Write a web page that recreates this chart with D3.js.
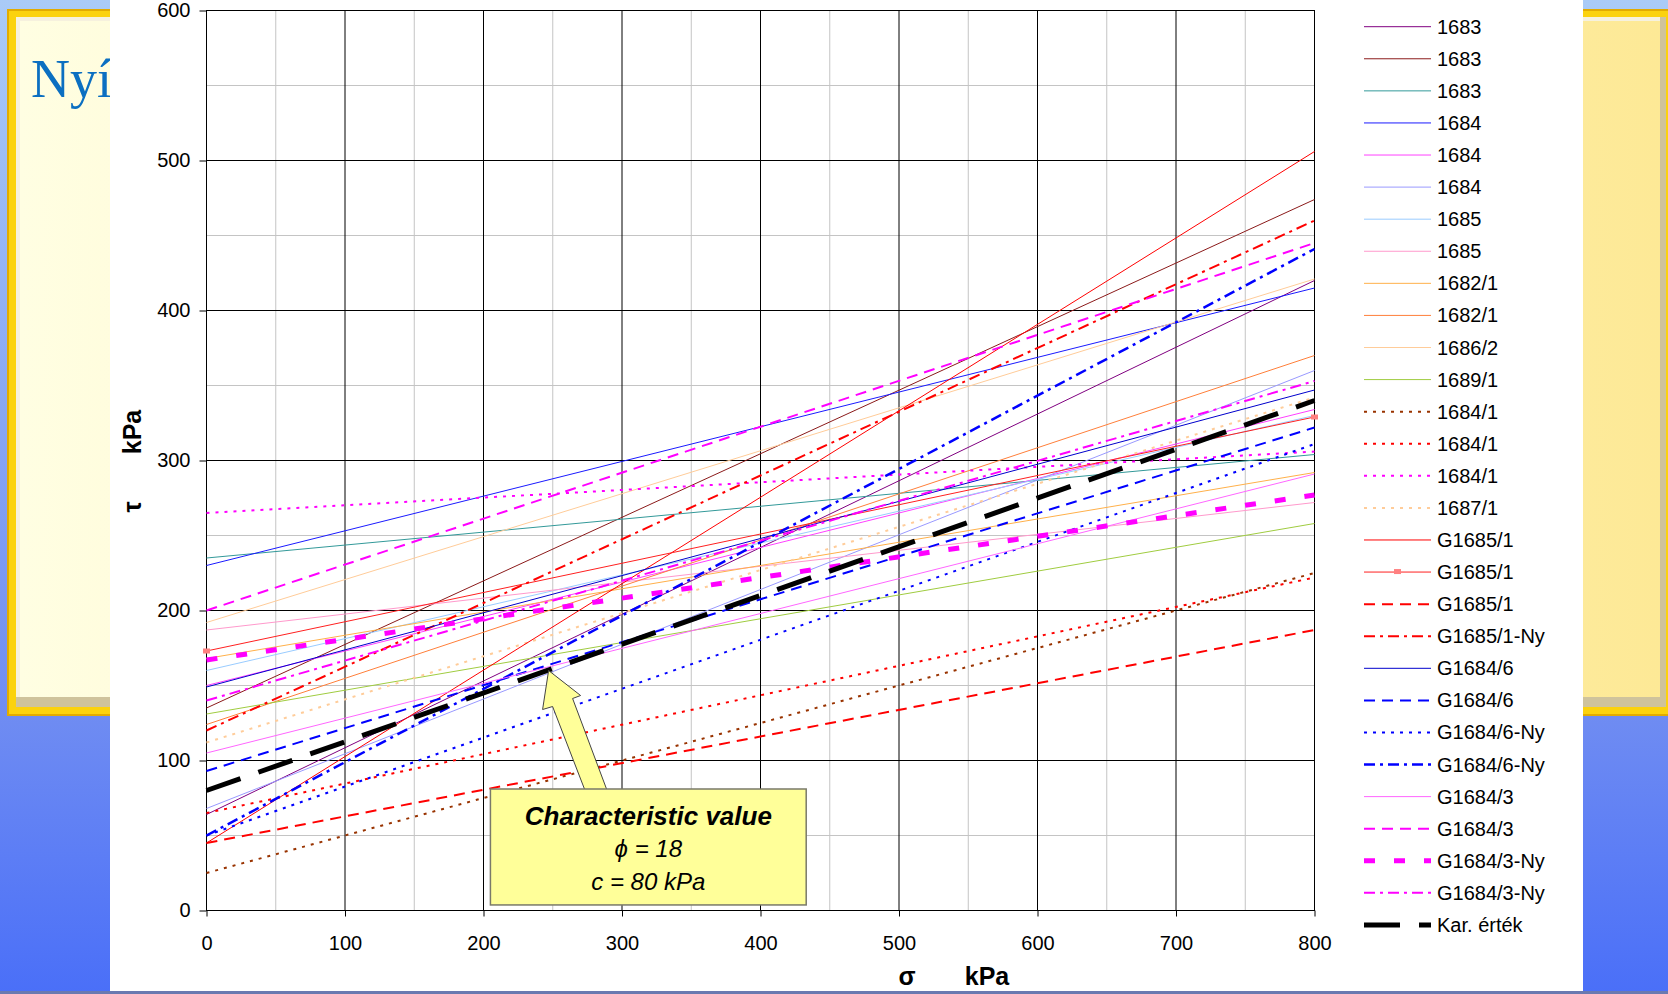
<html>
<head>
    <meta charset="utf-8">
    <style>
        body {
            margin: 0;
            overflow: hidden;
        }

        svg {
            display: block;
            font-family: "Liberation Sans", Arial, sans-serif;
        }

        .axis text {
            font-size: 20px;
            fill: #000;
        }

        .axis line {
            stroke: #000;
        }

        .legend text {
            font-size: 20px;
            fill: #000;
        }

        .axis-title {
            font-size: 25px;
            font-weight: bold;
            text-anchor: middle;
        }
    </style>
    <script src="https://d3js.org/d3.v7.min.js"></script>
</head>
<body>
    <svg width="1668" height="994"></svg>
    <script>

        // series: tau (kPa) at sigma = 0 and sigma = 800
        var seriesNames = ["1683", "1683", "1683", "1684", "1684", "1684", "1685", "1685",
                           "1682/1", "1682/1", "1686/2", "1689/1", "1684/1", "1684/1", "1684/1", "1687/1",
                           "G1685/1", "G1685/1", "G1685/1", "G1685/1-Ny", "G1684/6", "G1684/6",
                           "G1684/6-Ny", "G1684/6-Ny", "G1684/3", "G1684/3", "G1684/3-Ny", "G1684/3-Ny",
                           "Kar. érték"];
        var sigmaValues = [0, 800];
        var tauAtStart = [64, 135, 235, 230, 150, 68, 160, 187,
                          168, 124, 192, 131, 25, 65, 265, 112,
                          45, 173, 45, 120, 149, 93,
                          50, 50, 105, 200, 167, 140,
                          80];
        var tauAtEnd = [420, 474, 304, 415, 334, 360, 330, 272,
                        292, 370, 421, 258, 225, 222, 306, 342,
                        506, 329, 187, 460, 347, 322,
                        311, 441, 291, 445, 277, 353,
                        340];
        var xTicks = [0, 100, 200, 300, 400, 500, 600, 700, 800];
        var yTicks = [0, 100, 200, 300, 400, 500, 600];
        var noteLines = ["Characteristic value", "\u03d5 = 18", "c = 80 kPa"];

        // line looks, one per series (same order as above)
        var solid = null, dashed = "11,7", dotted = "3,6", dashDot = "11,5,3,5";
        var lineStyles = [
            { color: "#800080", width: 1, dash: solid },
            { color: "#8b1a1a", width: 1, dash: solid },
            { color: "#339999", width: 1, dash: solid },
            { color: "#1a1aff", width: 1, dash: solid },
            { color: "#ff40ff", width: 1, dash: solid },
            { color: "#9999ff", width: 1, dash: solid },
            { color: "#99ccff", width: 1, dash: solid },
            { color: "#ff99cc", width: 1, dash: solid },
            { color: "#ffb04a", width: 1, dash: solid },
            { color: "#ff7f3a", width: 1, dash: solid },
            { color: "#ffcc99", width: 1, dash: solid },
            { color: "#a0cc40", width: 1, dash: solid },
            { color: "#993300", width: 2, dash: dotted },
            { color: "#ff0000", width: 2, dash: dotted },
            { color: "#ff00ff", width: 2, dash: dotted },
            { color: "#ffcc99", width: 2, dash: dotted },
            { color: "#ff0000", width: 1, dash: solid },
            { color: "#ff2020", width: 1, dash: solid, marker: true },
            { color: "#ff0000", width: 2, dash: dashed },
            { color: "#ff0000", width: 2, dash: dashDot },
            { color: "#0000cc", width: 1, dash: solid },
            { color: "#0000ff", width: 2, dash: dashed },
            { color: "#0000ff", width: 2, dash: dotted },
            { color: "#0000ff", width: 2.5, dash: dashDot },
            { color: "#ff66ff", width: 1, dash: solid },
            { color: "#ff00ff", width: 2, dash: dashed },
            { color: "#ff00ff", width: 5, dash: "11,19" },
            { color: "#ff00ff", width: 2, dash: dashDot },
            { color: "#000000", width: 5, dash: "36,19" }
        ];

        var svg = d3.select("svg"),
            width = +svg.attr("width"),
            height = +svg.attr("height");

        // ---- slide behind the chart ----
        var defs = svg.append("defs");

        var bgGrad = defs.append("linearGradient")
                         .attr("id", "bgBlue")
                         .attr("x1", 0).attr("y1", 0).attr("x2", 0).attr("y2", 1);
        bgGrad.append("stop").attr("offset", 0).attr("stop-color", "#aacbf7");
        bgGrad.append("stop").attr("offset", 0.72).attr("stop-color", "#6f8cf2");
        bgGrad.append("stop").attr("offset", 1).attr("stop-color", "#4a6ff8");

        var panelGrad = defs.append("linearGradient")
                            .attr("id", "panelFill")
                            .attr("x1", 0).attr("y1", 0).attr("x2", 1).attr("y2", 0);
        panelGrad.append("stop").attr("offset", 0).attr("stop-color", "#fffee2");
        panelGrad.append("stop").attr("offset", 1).attr("stop-color", "#fde996");

        svg.append("rect").attr("width", width).attr("height", height).attr("fill", "url(#bgBlue)");
        svg.append("rect").attr("x", 7).attr("y", 9).attr("width", 1700).attr("height", 707).attr("fill", "#e2ab00");
        svg.append("rect").attr("x", 9).attr("y", 11).attr("width", 1696).attr("height", 703).attr("fill", "#fbd20e");
        svg.append("rect").attr("x", 16).attr("y", 17).attr("width", 1650).attr("height", 690).attr("fill", "#cfc39c");
        svg.append("rect").attr("x", 16).attr("y", 17).attr("width", 1644).attr("height", 680).attr("fill", "#f6f1de");
        svg.append("rect").attr("x", 20).attr("y", 21).attr("width", 1640).attr("height", 676).attr("fill", "url(#panelFill)");

        svg.append("text")
           .attr("x", 31)
           .attr("y", 97)
           .style("font-family", "'Liberation Serif', 'Times New Roman', serif")
           .style("font-size", "54px")
           .style("fill", "#0b6fc1")
           .text("Nyírószilárdság");

        // white chart picture
        svg.append("rect").attr("x", 110).attr("y", 0).attr("width", 1473).attr("height", 991).attr("fill", "#fff");
        svg.append("rect").attr("x", 0).attr("y", 991).attr("width", width).attr("height", 3)
           .attr("fill", "#808080").attr("opacity", 0.6);

        // ---- scales ----
        var x = d3.scaleLinear().domain([0, 800]).range([206.5, 1314.5]);
        var y = d3.scaleLinear().domain([0, 600]).range([910.5, 10.5]);

        var plot = svg.append("g");

        // minor grid (every 50)
        var minorX = d3.range(50, 800, 100),
            minorY = d3.range(50, 600, 100);
        plot.selectAll(".minor-x").data(minorX).enter().append("line")
            .attr("x1", function(d) { return x(d); }).attr("x2", function(d) { return x(d); })
            .attr("y1", y(0)).attr("y2", y(600))
            .attr("stroke", "#c4c4c4");
        plot.selectAll(".minor-y").data(minorY).enter().append("line")
            .attr("y1", function(d) { return y(d); }).attr("y2", function(d) { return y(d); })
            .attr("x1", x(0)).attr("x2", x(800))
            .attr("stroke", "#c4c4c4");

        // major grid
        plot.selectAll(".major-x").data(xTicks.slice(1, -1)).enter().append("line")
            .attr("x1", function(d) { return x(d); }).attr("x2", function(d) { return x(d); })
            .attr("y1", y(0)).attr("y2", y(600))
            .attr("stroke", "#000");
        plot.selectAll(".major-y").data(yTicks.slice(1, -1)).enter().append("line")
            .attr("y1", function(d) { return y(d); }).attr("y2", function(d) { return y(d); })
            .attr("x1", x(0)).attr("x2", x(800))
            .attr("stroke", "#000");

        plot.append("rect")
            .attr("x", x(0)).attr("y", y(600))
            .attr("width", x(800) - x(0)).attr("height", y(0) - y(600))
            .attr("fill", "none").attr("stroke", "#000");

        // ---- axes ----
        var xAxis = plot.append("g")
                        .attr("class", "axis")
                        .attr("transform", "translate(0," + y(0) + ")")
                        .call(d3.axisBottom(x).tickValues(xTicks).tickSize(6).tickPadding(19).tickFormat(d3.format("d")));
        xAxis.select(".domain").remove();

        var yAxis = plot.append("g")
                        .attr("class", "axis")
                        .attr("transform", "translate(" + x(0) + ",0)")
                        .call(d3.axisLeft(y).tickValues(yTicks).tickSize(7).tickPadding(9).tickFormat(d3.format("d")));
        yAxis.select(".domain").remove();
        plot.selectAll(".axis").attr("font-family", null).attr("font-size", null);

        svg.append("text").attr("class", "axis-title").attr("x", 907).attr("y", 985).text("σ");
        svg.append("text").attr("class", "axis-title").attr("x", 987).attr("y", 985).text("kPa");
        svg.append("text").attr("class", "axis-title").attr("transform", "translate(141,432) rotate(-90)").text("kPa");
        svg.append("text").attr("class", "axis-title").attr("transform", "translate(141,507) rotate(-90)").text("τ");

        // ---- series ----
        var series = seriesNames.map(function(name, i) {
            return {
                name: name,
                style: lineStyles[i],
                points: sigmaValues.map(function(s, j) {
                    return [s, j === 0 ? tauAtStart[i] : tauAtEnd[i]];
                })
            };
        });

        var line = d3.line()
                     .x(function(d) { return x(d[0]); })
                     .y(function(d) { return y(d[1]); });

        var lines = plot.selectAll(".series")
                        .data(series)
                        .enter().append("g")
                        .attr("class", "series");

        lines.append("path")
             .attr("d", function(d) { return line(d.points); })
             .attr("fill", "none")
             .attr("stroke", function(d) { return d.style.color; })
             .attr("stroke-width", function(d) { return d.style.width; })
             .attr("stroke-dasharray", function(d) { return d.style.dash; });

        lines.filter(function(d) { return d.style.marker; })
             .selectAll("rect")
             .data(function(d) { return d.points; })
             .enter().append("rect")
             .attr("x", function(d) { return x(d[0]) - 3.5; })
             .attr("y", function(d) { return y(d[1]) - 2.5; })
             .attr("width", 7).attr("height", 5)
             .attr("fill", "#ff8080");

        // ---- legend ----
        var legend = svg.append("g")
                        .attr("class", "legend")
                        .attr("transform", "translate(1364,26.7)");

        var item = legend.selectAll(".item")
                         .data(series)
                         .enter().append("g")
                         .attr("class", "item")
                         .attr("transform", function(d, i) { return "translate(0," + (i * 32.08) + ")"; });

        item.append("line")
            .attr("x1", 0).attr("x2", 67)
            .attr("stroke", function(d) { return d.style.color; })
            .attr("stroke-width", function(d) { return d.style.width; })
            .attr("stroke-dasharray", function(d) { return d.style.dash; });

        item.filter(function(d) { return d.style.marker; })
            .append("rect")
            .attr("x", 30).attr("y", -3).attr("width", 7).attr("height", 5)
            .attr("fill", "#ff8080");

        item.append("text")
            .attr("x", 73)
            .attr("dy", "0.35em")
            .text(function(d) { return d.name; });

        // ---- annotation: characteristic value ----
        var tip = [x(247), y(160)];
        var arrowShape = [[0, 0], [32, 25], [24, 28], [60, 124], [38, 124], [4, 36], [-6, 39]];
        plot.append("polygon")
            .attr("points", arrowShape.map(function(p) { return (tip[0] + p[0]) + "," + (tip[1] + p[1]); }).join(" "))
            .attr("fill", "#ffff99")
            .attr("stroke", "#444")
            .attr("stroke-width", 1);

        var box = { left: x(205), right: x(433), top: y(81), bottom: y(3.7) };
        plot.append("rect")
            .attr("x", box.left).attr("y", box.top)
            .attr("width", box.right - box.left).attr("height", box.bottom - box.top)
            .attr("fill", "#ffff99")
            .attr("stroke", "#7a7a6a")
            .attr("stroke-width", 1.5);

        var noteX = (box.left + box.right) / 2;
        var note = plot.append("text")
                       .attr("text-anchor", "middle")
                       .style("font-style", "italic");
        note.append("tspan")
            .attr("x", noteX).attr("y", box.top + 36)
            .style("font-weight", "bold").style("font-size", "26px")
            .text(noteLines[0]);
        note.append("tspan")
            .attr("x", noteX).attr("y", box.top + 67.5)
            .style("font-size", "24px")
            .text(noteLines[1]);
        note.append("tspan")
            .attr("x", noteX).attr("y", box.top + 101)
            .style("font-size", "24px")
            .text(noteLines[2]);
    </script>
</body>
</html>
